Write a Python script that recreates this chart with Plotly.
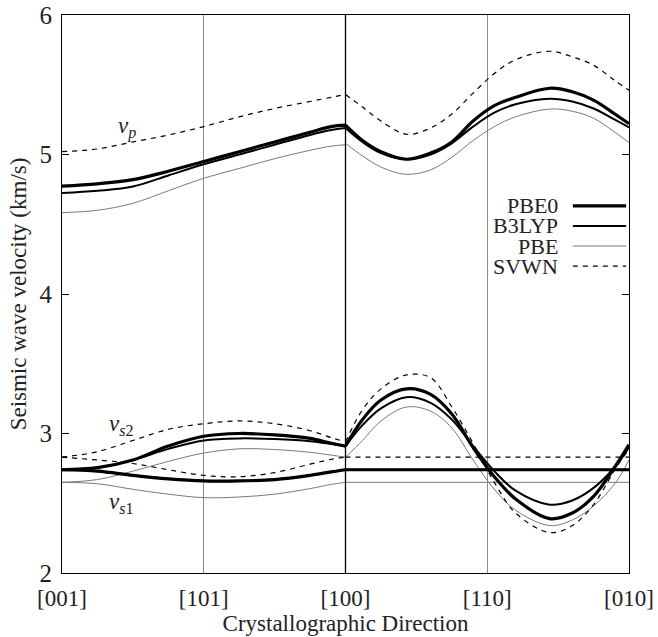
import plotly.graph_objects as go

# ---------------- data ----------------
TICK_POS = [0, 1, 2, 3, 4]
TICK_TEXT = ["[001]", "[101]", "[100]", "[110]", "[010]"]

X_LEFT = [0, 0.25, 0.5, 0.75, 1.0, 1.25, 1.5, 1.75, 1.9, 2.0]
X_RIGHT = [2.0, 2.12, 2.25, 2.43, 2.6, 2.75, 2.9, 3.05, 3.2, 3.44, 3.6, 3.75, 3.9, 4.0]
X_FLAT = [2.0, 4.0]

# v_p
VP_PBE0_L = [4.774, 4.79, 4.82, 4.88, 4.95, 5.02, 5.09, 5.16, 5.20, 5.21]
VP_PBE0_R = [5.21, 5.10, 5.02, 4.966, 5.01, 5.09, 5.24, 5.35, 5.41, 5.475, 5.45, 5.39, 5.29, 5.22]
VP_B3LYP_L = [4.724, 4.74, 4.77, 4.85, 4.93, 5.00, 5.07, 5.14, 5.175, 5.19]
VP_B3LYP_R = [5.19, 5.09, 5.01, 4.966, 5.00, 5.08, 5.20, 5.30, 5.36, 5.40, 5.38, 5.33, 5.25, 5.195]
VP_PBE_L = [4.583, 4.60, 4.65, 4.74, 4.83, 4.90, 4.97, 5.03, 5.06, 5.07]
VP_PBE_R = [5.08, 4.99, 4.91, 4.858, 4.89, 4.98, 5.10, 5.20, 5.27, 5.326, 5.31, 5.26, 5.16, 5.085]
VP_SVWN_L = [5.02, 5.04, 5.09, 5.14, 5.20, 5.27, 5.33, 5.38, 5.41, 5.43]
VP_SVWN_R = [5.43, 5.34, 5.24, 5.145, 5.19, 5.29, 5.44, 5.58, 5.68, 5.74, 5.70, 5.64, 5.53, 5.46]

# v_s2
VS2_PBE0_L = [2.74, 2.755, 2.81, 2.91, 2.98, 3.00, 2.99, 2.965, 2.93, 2.91]
VS2_PBE0_R = [2.91, 3.10, 3.24, 3.32, 3.28, 3.14, 2.90, 2.69, 2.53, 2.39, 2.43, 2.55, 2.76, 2.92]
VS2_B3LYP_L = [2.74, 2.755, 2.81, 2.89, 2.95, 2.965, 2.96, 2.945, 2.925, 2.91]
VS2_B3LYP_R = [2.91, 3.06, 3.18, 3.26, 3.22, 3.10, 2.91, 2.73, 2.59, 2.49, 2.52, 2.61, 2.76, 2.90]
VS2_PBE_L = [2.65, 2.67, 2.73, 2.80, 2.86, 2.89, 2.885, 2.865, 2.845, 2.83]
VS2_PBE_R = [2.83, 2.95, 3.09, 3.19, 3.16, 3.04, 2.81, 2.60, 2.45, 2.34, 2.38, 2.48, 2.64, 2.81]
VS2_SVWN_L = [2.83, 2.87, 2.95, 3.03, 3.07, 3.09, 3.07, 3.02, 2.97, 2.94]
VS2_SVWN_R = [2.94, 3.17, 3.32, 3.42, 3.40, 3.19, 2.93, 2.65, 2.43, 2.29, 2.34, 2.49, 2.74, 2.89]

# v_s1
VS1_PBE0_L = [2.74, 2.73, 2.70, 2.675, 2.66, 2.66, 2.67, 2.70, 2.725, 2.74]
VS1_PBE0_R = [2.74, 2.74]
VS1_B3LYP_L = [2.74, 2.73, 2.70, 2.675, 2.66, 2.66, 2.67, 2.70, 2.725, 2.74]
VS1_B3LYP_R = [2.74, 2.74]
VS1_PBE_L = [2.65, 2.64, 2.60, 2.565, 2.54, 2.545, 2.565, 2.605, 2.635, 2.65]
VS1_PBE_R = [2.65, 2.65]
VS1_SVWN_L = [2.83, 2.81, 2.785, 2.74, 2.70, 2.69, 2.72, 2.78, 2.815, 2.83]
VS1_SVWN_R = [2.83, 2.83]

FUNCTIONALS = ["PBE0", "B3LYP", "PBE", "SVWN"]

# ---------------- styles ----------------
STYLE = {
    "PBE0": dict(color="black", width=3.2, dash="solid"),
    "B3LYP": dict(color="black", width=2.0, dash="solid"),
    "PBE": dict(color="#7a7a7a", width=1.0, dash="solid"),
    "SVWN": dict(color="black", width=1.2, dash="5px,5px"),
}

SERIES = {
    "PBE0": [(X_LEFT, VP_PBE0_L, X_RIGHT, VP_PBE0_R),
             (X_LEFT, VS2_PBE0_L, X_RIGHT, VS2_PBE0_R),
             (X_LEFT, VS1_PBE0_L, X_FLAT, VS1_PBE0_R)],
    "B3LYP": [(X_LEFT, VP_B3LYP_L, X_RIGHT, VP_B3LYP_R),
              (X_LEFT, VS2_B3LYP_L, X_RIGHT, VS2_B3LYP_R),
              (X_LEFT, VS1_B3LYP_L, X_FLAT, VS1_B3LYP_R)],
    "PBE": [(X_LEFT, VP_PBE_L, X_RIGHT, VP_PBE_R),
            (X_LEFT, VS2_PBE_L, X_RIGHT, VS2_PBE_R),
            (X_LEFT, VS1_PBE_L, X_FLAT, VS1_PBE_R)],
    "SVWN": [(X_LEFT, VP_SVWN_L, X_RIGHT, VP_SVWN_R),
             (X_LEFT, VS2_SVWN_L, X_RIGHT, VS2_SVWN_R),
             (X_LEFT, VS1_SVWN_L, X_FLAT, VS1_SVWN_R)],
}

FONT = "Liberation Serif"
TXT = "#222222"

fig = go.Figure()

# draw thin first, thick last
for name in ["PBE", "SVWN", "B3LYP", "PBE0"]:
    for xl, yl, xr, yr in SERIES[name]:
        fig.add_trace(go.Scatter(
            x=list(xl) + [None] + list(xr),
            y=list(yl) + [None] + list(yr),
            mode="lines",
            line=dict(shape="spline", smoothing=1.0, **STYLE[name]),
            connectgaps=False,
            showlegend=False,
            hoverinfo="skip",
            name=name,
        ))

# black separator at [100]
fig.add_vline(x=TICK_POS[2], line=dict(color="black", width=1.3), layer="above")

# curve labels
LABELS = [("<i>v</i><sub><i>p</i></sub>", 0.46, 5.19),
          ("<i>v</i><sub><i>s</i>2</sub>", 0.42, 3.06),
          ("<i>v</i><sub><i>s</i>1</sub>", 0.42, 2.50)]
for txt, lx, ly in LABELS:
    fig.add_annotation(x=lx, y=ly, text=txt, showarrow=False,
                       font=dict(family=FONT, size=23, color=TXT))

# manual legend (text right, sample on the right)
LEG_TEXT_X = 0.878
LEG_LINE_X0, LEG_LINE_X1 = 0.901, 0.995
LEG_Y = [0.658, 0.622, 0.586, 0.550]
for name, ly in zip(FUNCTIONALS, LEG_Y):
    fig.add_annotation(xref="paper", yref="paper", x=LEG_TEXT_X, y=ly,
                       text=name, showarrow=False, xanchor="right", yanchor="middle",
                       font=dict(family=FONT, size=22, color=TXT))
    st = STYLE[name]
    fig.add_shape(type="line", xref="paper", yref="paper",
                  x0=LEG_LINE_X0, x1=LEG_LINE_X1, y0=ly, y1=ly,
                  line=dict(color=st["color"], width=st["width"], dash=st["dash"]))

fig.update_layout(
    width=658, height=637,
    margin=dict(l=62, r=29, t=15, b=64, autoexpand=False),
    paper_bgcolor="white", plot_bgcolor="white",
    font=dict(family=FONT, size=23, color=TXT),
    showlegend=False,
)
fig.update_xaxes(
    range=[0, 4], tickvals=TICK_POS, ticktext=TICK_TEXT,
    showgrid=True, gridcolor="#8c8c8c", gridwidth=1,
    showline=True, linecolor="black", linewidth=1.2, mirror=True,
    ticks="", zeroline=False, automargin=False, ticklabelstandoff=4,
    tickfont=dict(family=FONT, size=23, color=TXT),
    title=dict(text="Crystallographic Direction", font=dict(family=FONT, size=23, color=TXT), standoff=0),
)
fig.update_yaxes(
    range=[2, 6], tickvals=[2, 3, 4, 5, 6],
    showgrid=False, zeroline=False, automargin=False,
    showline=True, linecolor="black", linewidth=1.2, mirror="ticks",
    ticks="inside", ticklen=7, tickcolor="black", ticklabelstandoff=4,
    tickfont=dict(family=FONT, size=25, color=TXT),
    title=dict(text="Seismic wave velocity (km/s)", font=dict(family=FONT, size=23, color=TXT), standoff=6),
)

fig.write_html("out.html", config={"displayModeBar": False},
               post_script="document.body.style.margin='0px';document.body.style.overflow='hidden';")
